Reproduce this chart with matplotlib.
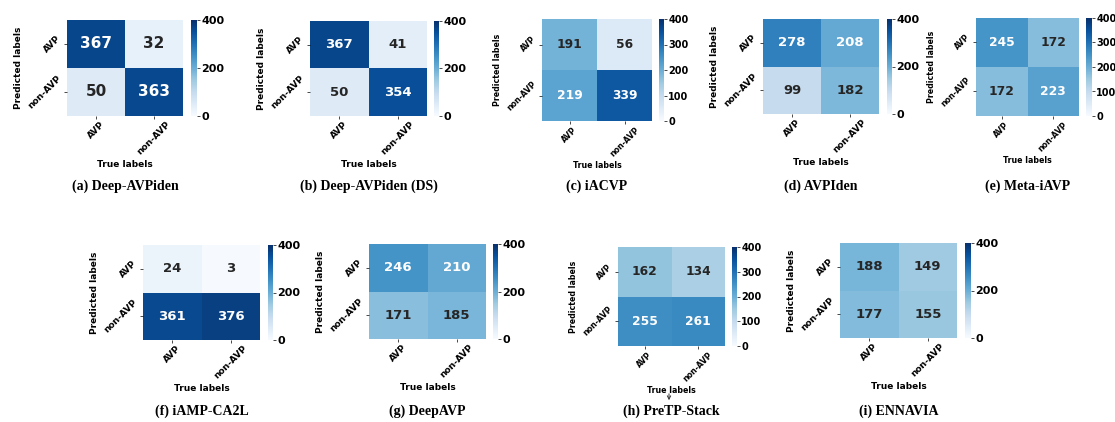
import numpy as np
import matplotlib
matplotlib.use("Agg")
import matplotlib.pyplot as plt
import seaborn as sns

W, H = 1115, 422

# confusion matrices (rows: predicted AVP / non-AVP, cols: true AVP / non-AVP)
names = ["(a) Deep-AVPiden", "(b) Deep-AVPiden (DS)", "(c) iACVP", "(d) AVPIden",
         "(e) Meta-iAVP", "(f) iAMP-CA2L", "(g) DeepAVP", "(h) PreTP-Stack", "(i) ENNAVIA"]
cm_a = [[367, 32], [50, 363]]
cm_b = [[367, 41], [50, 354]]
cm_c = [[191, 56], [219, 339]]
cm_d = [[278, 208], [99, 182]]
cm_e = [[245, 172], [172, 223]]
cm_f = [[24, 3], [361, 376]]
cm_g = [[246, 210], [171, 185]]
cm_h = [[162, 134], [255, 261]]
cm_i = [[188, 149], [177, 155]]
matrices = [cm_a, cm_b, cm_c, cm_d, cm_e, cm_f, cm_g, cm_h, cm_i]
class_labels = ["AVP", "non-AVP"]
cbar_steps = [200, 200, 100, 200, 100, 200, 200, 100, 200]

# layout in pixels: heatmap (x0, y0, x1, y1), colorbar (x0, x1)
hm_box = [(67, 20, 183, 116), (310, 21, 427, 116), (542, 19, 652, 121),
          (763, 19, 879, 114), (976, 18, 1079, 116), (143, 245, 260, 340),
          (369, 244, 486, 339), (618, 247, 725, 346), (840, 243, 957, 338)]
cb_box = [(191, 197), (434, 439), (659, 664), (887, 892), (1086, 1092),
          (268, 273), (493, 498), (732, 737), (965, 971)]
caption_y = [186] * 5 + [411] * 4
annot_size = [11, 9.5, 8.8, 9.5, 8.8, 9.5, 9.5, 8.8, 9.5]
label_size = [6.5, 6.5, 5.7, 6.5, 5.7, 6.5, 6.5, 5.7, 6.5]


def px_axes(fig, x0, y0, x1, y1):
    return fig.add_axes([x0 / W, 1 - y1 / H, (x1 - x0) / W, (y1 - y0) / H])


fig = plt.figure(figsize=(W / 100, H / 100), dpi=100)

for k in range(9):
    x0, y0, x1, y1 = hm_box[k]
    ax = px_axes(fig, x0, y0, x1, y1)
    cax = px_axes(fig, cb_box[k][0], y0, cb_box[k][1], y1)
    data = np.array(matrices[k])
    sns.heatmap(data, ax=ax, cbar_ax=cax, cmap="Blues", vmin=0, vmax=400,
                annot=True, fmt="d",
                annot_kws={"fontsize": annot_size[k], "fontweight": "bold"},
                xticklabels=class_labels, yticklabels=class_labels)
    # text colour: white on dark cells
    for t, v in zip(ax.texts, data.flatten()):
        t.set_color("white" if v > 200 else "#262626")
    fs = label_size[k]
    ax.set_xlabel("True labels", fontsize=fs, fontweight="bold", labelpad=2)
    ax.set_ylabel("Predicted labels", fontsize=fs, fontweight="bold", labelpad=2)
    ax.tick_params(length=2, width=0.5, pad=1)
    plt.setp(ax.get_xticklabels(), rotation=45, fontsize=fs, fontweight="bold")
    plt.setp(ax.get_yticklabels(), rotation=45, fontsize=fs, fontweight="bold")
    step = cbar_steps[k]
    cax.set_yticks(np.arange(0, 401, step))
    cax.tick_params(length=2, width=0.5, pad=1,
                    labelsize=8 if step == 200 else 7)
    for lab in cax.get_yticklabels():
        lab.set_fontweight("bold")
    fig.text((x0 + x1) / 2 / W, 1 - caption_y[k] / H, names[k],
             ha="center", va="center", fontsize=10, fontweight="bold",
             family="Liberation Serif")

# small arrow under panel (h)
fig.add_artist(matplotlib.patches.FancyArrowPatch(
    (669 / W, 1 - 391 / H), (669 / W, 1 - 403 / H), transform=fig.transFigure,
    arrowstyle="->", mutation_scale=6, lw=0.7, color="#333333"))

fig.savefig("out.png", dpi=100)
